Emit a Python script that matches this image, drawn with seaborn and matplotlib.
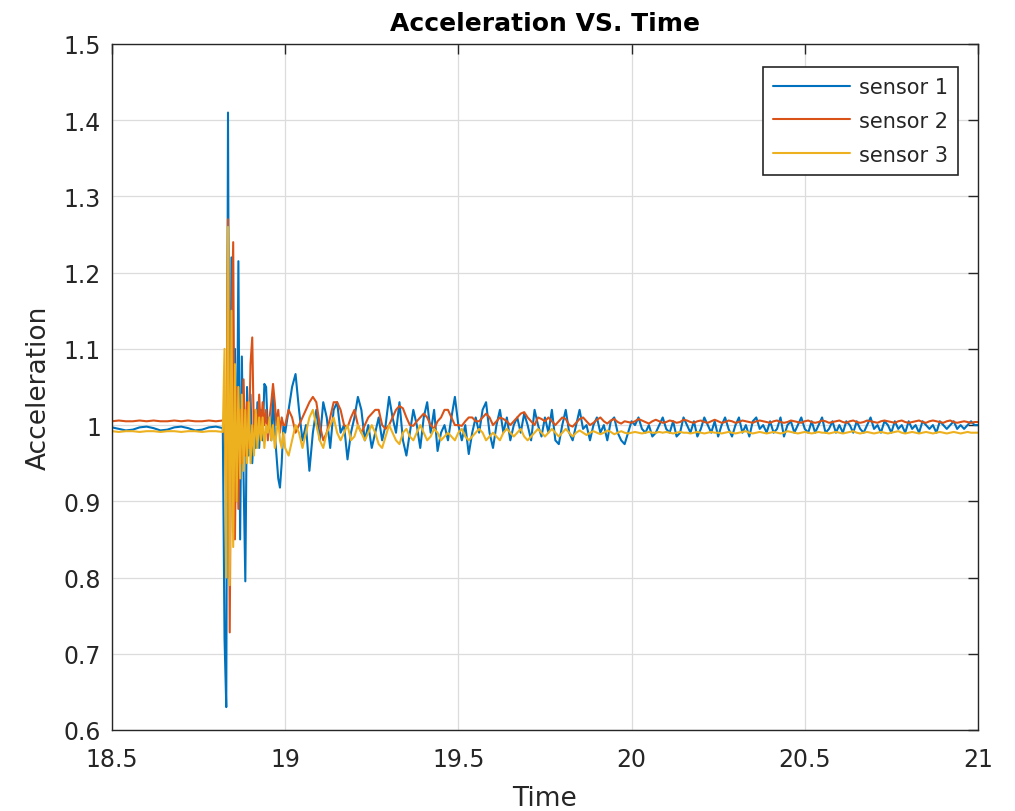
import numpy as np
import pandas as pd
import matplotlib
matplotlib.use("Agg")
import matplotlib.pyplot as plt
import seaborn as sns

# ---- sample times ----------------------------------------------------------
# quiet lead-in, fast-sampled impact burst, then the ringing tail
t_lead = np.round(np.arange(18.50, 18.8201, 0.02), 3)
t_burst = np.round(np.arange(18.825, 18.9951, 0.005), 3)
t_tail = np.round(np.arange(19.00, 21.0001, 0.01), 3)
time = np.concatenate([t_lead, t_burst, t_tail])

# ---- sensor 1 --------------------------------------------------------------
s1_lead = [0.997, 0.995, 0.993, 0.994, 0.997, 0.998, 0.996, 0.993, 0.994,
           0.997, 0.998, 0.996, 0.993, 0.994, 0.997, 0.998, 0.996]
s1_burst = [0.72, 0.63, 1.41, 0.80, 1.22, 0.86, 1.10, 0.90, 1.215, 0.85,
            1.09, 0.93, 0.795, 1.05, 0.96, 1.04, 0.95, 1.00, 0.97, 1.03,
            0.97, 1.02, 0.98, 1.054, 1.05, 0.99, 1.01, 0.98, 1.04, 0.99,
            0.96, 0.93, 0.918, 0.95, 1.00]
s1_tail = [
    0.99, 1.02, 1.05, 1.067, 1.02, 0.98, 1.00, 0.94, 0.99, 1.02,
    0.98, 1.03, 1.01, 0.97, 1.02, 1.03, 0.99, 1.00, 0.955, 0.99,
    1.01, 1.037, 1.02, 0.98, 1.00, 0.97, 0.99, 1.01, 0.98, 1.00,
    1.037, 1.01, 0.99, 1.03, 0.98, 0.96, 0.99, 1.02, 1.00, 0.97,
    1.01, 1.03, 0.99, 1.02, 0.966, 0.99, 1.00, 0.98, 1.01, 1.037,
    1.00, 0.98, 1.00, 0.962, 0.99, 1.01, 0.99, 1.02, 1.03, 0.99,
    0.97, 1.00, 1.02, 0.99, 1.01, 0.98, 1.00, 1.01, 0.99, 1.015,
    1.00, 0.98, 1.02, 1.00, 0.985, 1.01, 0.99, 1.02, 0.98, 0.975,
    1.00, 1.02, 0.99, 0.98, 1.00, 1.02, 0.995, 1.00, 0.98, 1.00,
    1.01, 0.99, 1.00, 0.98, 1.005, 1.01, 0.99, 0.98, 0.975, 0.99,
    1.005, 1.00, 1.01, 0.995, 0.99, 1.00, 0.985, 0.99, 1.00, 1.01,
    0.995, 0.99, 1.005, 0.985, 0.99, 1.01, 1.00, 0.99, 1.005, 0.985,
    0.995, 1.01, 1.00, 0.99, 1.005, 0.985, 1.00, 1.01, 0.995, 0.985,
    1.00, 1.01, 0.99, 1.00, 0.985, 1.005, 1.01, 0.995, 1.00, 0.99,
    1.005, 0.99, 0.995, 1.01, 0.985, 1.00, 1.005, 0.99, 1.00, 1.01,
    0.995, 0.99, 1.005, 0.99, 1.00, 1.01, 0.99, 0.995, 1.005, 0.99,
    1.00, 0.99, 1.005, 1.00, 0.99, 1.005, 0.995, 0.99, 1.00, 1.01,
    0.995, 1.00, 0.99, 1.005, 1.00, 0.99, 1.005, 0.995, 1.00, 0.99,
    1.005, 0.995, 1.00, 0.99, 1.005, 1.00, 0.995, 1.00, 0.99, 1.005,
    1.00, 0.995, 1.00, 1.005, 0.995, 1.00, 0.995, 1.00, 1.005, 1.00,
    1.00]

# ---- sensor 2 --------------------------------------------------------------
s2_lead = [1.005, 1.006, 1.005, 1.005, 1.006, 1.005, 1.006, 1.005, 1.005,
           1.006, 1.005, 1.006, 1.005, 1.005, 1.006, 1.005, 1.006]
s2_burst = [1.00, 0.90, 1.27, 0.728, 1.10, 1.24, 0.85, 1.05, 0.89, 1.02,
            0.95, 1.06, 0.96, 1.03, 0.97, 1.08, 1.115, 0.98, 1.02, 0.99,
            1.04, 0.99, 1.03, 1.00, 1.02, 0.98, 1.01, 1.03, 1.054, 1.03,
            1.00, 1.02, 0.99, 1.01, 1.00]
s2_tail = [
    1.00, 1.02, 1.01, 0.99, 1.00, 1.01, 1.02, 1.03, 1.037, 1.03,
    1.00, 0.98, 0.99, 1.01, 1.03, 1.03, 1.02, 1.00, 0.997, 1.01,
    1.02, 1.00, 0.99, 1.00, 1.01, 1.015, 1.02, 1.02, 1.00, 0.995,
    1.00, 1.01, 1.02, 1.025, 1.022, 1.01, 1.00, 0.999, 1.005, 1.01,
    1.015, 1.01, 1.00, 0.995, 1.005, 1.01, 1.02, 1.02, 1.01, 1.00,
    1.00, 0.999, 1.005, 1.01, 1.01, 1.005, 1.005, 1.01, 1.015, 1.01,
    1.00, 1.005, 1.01, 1.008, 1.005, 1.00, 1.005, 1.01, 1.015, 1.017,
    1.01, 1.005, 1.00, 1.01, 1.008, 1.005, 1.01, 1.005, 1.00, 1.005,
    1.01, 1.008, 1.00, 0.998, 1.003, 1.008, 1.01, 1.005, 1.00, 1.003,
    1.007, 1.01, 1.005, 1.002, 1.006, 1.008, 1.004, 1.002, 1.005, 1.004,
    1.003, 1.005, 1.008, 1.006, 1.004, 1.002, 1.005, 1.007, 1.005, 1.003,
    1.004, 1.006, 1.005, 1.003, 1.004, 1.007, 1.006, 1.004, 1.003, 1.005,
    1.006, 1.004, 1.003, 1.005, 1.007, 1.005, 1.003, 1.004, 1.006, 1.005,
    1.003, 1.004, 1.006, 1.005, 1.004, 1.003, 1.005, 1.006, 1.005, 1.004,
    1.003, 1.005, 1.006, 1.004, 1.003, 1.004, 1.006, 1.005, 1.004, 1.003,
    1.005, 1.006, 1.004, 1.003, 1.004, 1.006, 1.005, 1.003, 1.004, 1.005,
    1.006, 1.004, 1.003, 1.005, 1.006, 1.004, 1.003, 1.004, 1.006, 1.005,
    1.004, 1.003, 1.005, 1.006, 1.005, 1.004, 1.003, 1.005, 1.006, 1.004,
    1.003, 1.004, 1.005, 1.006, 1.004, 1.003, 1.005, 1.006, 1.005, 1.004,
    1.003, 1.005, 1.006, 1.004, 1.003, 1.004, 1.005, 1.004, 1.003, 1.004,
    1.004]

# ---- sensor 3 --------------------------------------------------------------
s3_lead = [0.992, 0.991, 0.992, 0.992, 0.991, 0.992, 0.992, 0.991, 0.992,
           0.992, 0.991, 0.992, 0.992, 0.991, 0.992, 0.992, 0.991]
s3_burst = [1.10, 0.80, 1.26, 0.79, 1.15, 0.84, 1.08, 0.90, 1.05, 0.93,
            1.04, 0.94, 1.02, 0.95, 1.03, 0.95, 1.00, 0.96, 1.02, 0.97,
            1.01, 0.98, 1.01, 0.97, 1.00, 0.99, 1.01, 0.98, 1.00, 0.97,
            0.99, 1.01, 0.98, 0.97, 0.99]
s3_tail = [
    0.97, 0.96, 0.98, 1.00, 0.99, 0.97, 0.99, 1.01, 1.02, 1.00,
    0.98, 0.97, 0.99, 1.00, 1.01, 0.99, 0.98, 0.99, 1.00, 0.98,
    0.985, 1.00, 0.99, 0.98, 0.99, 1.00, 0.99, 0.975, 0.97, 0.985,
    1.00, 0.99, 0.98, 0.975, 0.99, 0.995, 0.985, 0.98, 0.99, 1.00,
    0.99, 0.98, 0.985, 0.995, 0.99, 0.98, 0.985, 0.99, 0.985, 0.98,
    0.99, 0.995, 0.985, 0.98, 0.985, 0.99, 0.995, 0.99, 0.98, 0.985,
    0.99, 0.985, 0.98, 0.99, 0.995, 0.99, 0.985, 0.99, 0.995, 0.985,
    0.98, 0.985, 0.99, 0.995, 0.99, 0.985, 0.99, 0.995, 0.99, 0.985,
    0.99, 0.995, 0.99, 0.985, 0.99, 0.993, 0.99, 0.987, 0.99, 0.992,
    0.99, 0.988, 0.99, 0.993, 0.991, 0.988, 0.99, 0.992, 0.99, 0.989,
    0.99, 0.991, 0.99, 0.989, 0.99, 0.991, 0.99, 0.99, 0.991, 0.99,
    0.991, 0.99, 0.989, 0.99, 0.991, 0.99, 0.99, 0.989, 0.99, 0.991,
    0.99, 0.989, 0.99, 0.991, 0.99, 0.99, 0.989, 0.99, 0.991, 0.99,
    0.989, 0.99, 0.991, 0.992, 0.99, 0.989, 0.99, 0.991, 0.99, 0.989,
    0.99, 0.991, 0.99, 0.989, 0.99, 0.992, 0.991, 0.99, 0.989, 0.99,
    0.991, 0.99, 0.989, 0.99, 0.991, 0.99, 0.99, 0.989, 0.99, 0.991,
    0.99, 0.989, 0.99, 0.991, 0.992, 0.99, 0.989, 0.99, 0.991, 0.99,
    0.989, 0.99, 0.991, 0.99, 0.989, 0.99, 0.991, 0.992, 0.99, 0.989,
    0.99, 0.991, 0.99, 0.989, 0.99, 0.991, 0.99, 0.989, 0.99, 0.991,
    0.99, 0.989, 0.99, 0.991, 0.99, 0.989, 0.99, 0.991, 0.99, 0.99,
    0.99]

sensor_names = ["sensor 1", "sensor 2", "sensor 3"]
sensor_colors = ["#0072BD", "#D95319", "#EDB120"]
x_ticks = [18.5, 19, 19.5, 20, 20.5, 21]
x_tick_labels = ["18.5", "19", "19.5", "20", "20.5", "21"]
y_ticks = [0.6, 0.7, 0.8, 0.9, 1.0, 1.1, 1.2, 1.3, 1.4, 1.5]
y_tick_labels = ["0.6", "0.7", "0.8", "0.9", "1", "1.1", "1.2", "1.3", "1.4", "1.5"]

series = [
    np.concatenate([s1_lead, s1_burst, s1_tail]),
    np.concatenate([s2_lead, s2_burst, s2_tail]),
    np.concatenate([s3_lead, s3_burst, s3_tail]),
]
df = pd.concat(
    [pd.DataFrame({"Time": time, "Acceleration": vals, "sensor": name})
     for name, vals in zip(sensor_names, series)],
    ignore_index=True,
)

# ---- figure ----------------------------------------------------------------
sns.set_style("white")
plt.rcParams["font.family"] = ["DejaVu Sans"]
ink = "#262626"

fig = plt.figure(figsize=(10.15, 8.12), dpi=100)
ax = fig.add_axes([0.1103, 0.0998, 0.8532, 0.8448])

sns.lineplot(
    data=df, x="Time", y="Acceleration", hue="sensor",
    palette=sensor_colors, estimator=None, sort=False,
    linewidth=1.5, ax=ax,
)

ax.set_xlim(18.5, 21)
ax.set_ylim(0.6, 1.5)
ax.set_xticks(x_ticks)
ax.set_xticklabels(x_tick_labels)
ax.set_yticks(y_ticks)
ax.set_yticklabels(y_tick_labels)
ax.grid(True, color="#dcdcdc", linewidth=0.9)
ax.set_axisbelow(True)
for sp in ax.spines.values():
    sp.set_visible(True)
    sp.set_color(ink)
    sp.set_linewidth(1.0)
ax.tick_params(direction="in", length=7, width=1.0, colors=ink,
               labelsize=17, top=True, right=True)
ax.tick_params(axis="x", pad=12)
ax.tick_params(axis="y", pad=8)

ax.set_title("Acceleration VS. Time", fontsize=18, fontweight="bold",
             color="black", pad=10)
ax.set_xlabel("Time", fontsize=19, color=ink, labelpad=10)
ax.set_ylabel("Acceleration", fontsize=19, color=ink, labelpad=8)

leg = ax.legend(loc="upper right", bbox_to_anchor=(0.977, 0.967),
                fontsize=15, frameon=True, fancybox=False,
                edgecolor=ink, framealpha=1, handlelength=3.7,
                borderpad=0.5, labelspacing=0.66, handletextpad=0.4,
                borderaxespad=0)
leg.get_frame().set_linewidth(1.2)
for h in leg.get_lines():
    h.set_linewidth(1.5)

fig.savefig("out.png", dpi=100)
